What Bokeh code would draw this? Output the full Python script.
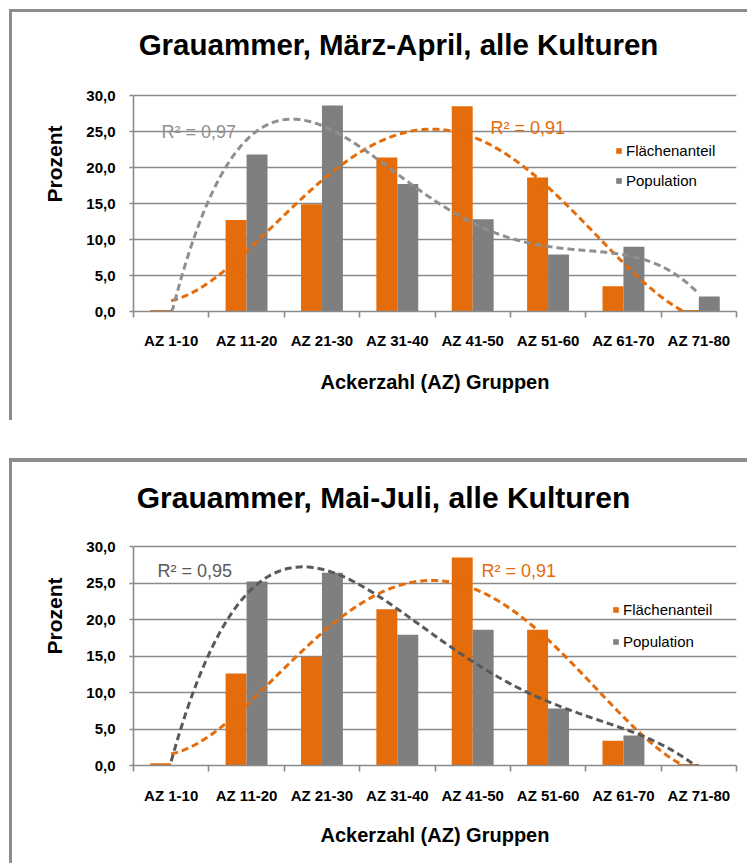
import numpy as np
from bokeh.plotting import figure
from bokeh.models import (ColumnDataSource, Range1d, FixedTicker, Legend, LegendItem, Label)
from bokeh.layouts import column
from bokeh.transform import dodge
from bokeh.embed import file_html
from bokeh.resources import INLINE

# ---------------- data ----------------
categories = ["AZ 1-10", "AZ 11-20", "AZ 21-30", "AZ 31-40",
              "AZ 41-50", "AZ 51-60", "AZ 61-70", "AZ 71-80"]
flaeche_maerz = [0.2, 12.7, 14.9, 21.4, 28.5, 18.6, 3.5, 0.2]
population_maerz = [0.0, 21.8, 28.6, 17.7, 12.8, 7.9, 9.0, 2.1]
flaeche_mai = [0.3, 12.6, 14.9, 21.4, 28.5, 18.6, 3.4, 0.2]
population_mai = [0.0, 25.2, 26.4, 17.9, 18.6, 7.8, 4.1, 0.0]
y_ticks = [0, 5, 10, 15, 20, 25, 30]
y_tick_labels = ["0,0", "5,0", "10,0", "15,0", "20,0", "25,0", "30,0"]
titles = ["Grauammer, März-April, alle Kulturen", "Grauammer, Mai-Juli, alle Kulturen"]
r2_maerz = {"flaeche": "R² = 0,91", "population": "R² = 0,97"}
r2_mai = {"flaeche": "R² = 0,91", "population": "R² = 0,95"}
r2_targets_maerz = {"flaeche": 0.91, "population": 0.97}
r2_targets_mai = {"flaeche": 0.91, "population": 0.95}

ORANGE = "#E46C0A"
GRAY = "#7F7F7F"
GRID = "#8A8A8A"
FRAME = "#8C8C8C"
FONT = "Liberation Sans"


def r2_of(x, y, deg):
    c = np.polyfit(x, y, deg)
    fit = np.polyval(c, x)
    ss_res = np.sum((np.array(y) - fit) ** 2)
    ss_tot = np.sum((np.array(y) - np.mean(y)) ** 2)
    return 1 - ss_res / ss_tot


def pick_degree(x, y, target):
    for d in range(2, 7):
        if round(r2_of(x, y, d), 2) == target:
            return d
    return 4


def make_chart(title, flaeche, population, r2_texts, r2_targets, geo, trend_gray):
    W, H = geo["W"], geo["H"]
    xi = list(range(1, len(categories) + 1))
    src = ColumnDataSource(dict(xi=xi, cat=categories, flaeche=flaeche, population=population))
    # frame reaches up into the title area; value axis itself is bounded to 0..30
    y_top = 30.0 * (geo["y0"] - geo["top"]) / (geo["y0"] - geo["y30"])
    p = figure(width=W, height=H, output_backend="svg", toolbar_location=None,
               x_range=Range1d(0.5, len(categories) + 0.5), y_range=Range1d(0, y_top),
               min_border_left=geo["left"], min_border_right=geo["right"],
               min_border_top=geo["top"], min_border_bottom=H - geo["y0"])
    p.outline_line_color = None
    p.background_fill_color = "white"
    p.border_fill_color = "white"
    p.styles = {"border-top": "%dpx solid %s" % (geo["border_top"], FRAME),
                "border-left": "3px solid %s" % FRAME}
    p.margin = (geo["margin_top"], 0, 0, 9)

    # grid
    p.xgrid.visible = False
    p.ygrid.ticker = FixedTicker(ticks=y_ticks)
    p.ygrid.grid_line_color = GRID
    p.ygrid.grid_line_width = 1.6

    # bars
    r1 = p.vbar(x=dodge("xi", -0.139), top="flaeche", width=0.278, source=src,
                fill_color=ORANGE, line_color=None)
    r2 = p.vbar(x=dodge("xi", 0.139), top="population", width=0.278, source=src,
                fill_color=GRAY, line_color=None)

    # polynomial trend lines (Excel-style, fitted on the bar values)
    xs = np.linspace(1, len(categories), 300)
    for key, vals, col in (("flaeche", flaeche, ORANGE), ("population", population, trend_gray)):
        d = pick_degree(xi, vals, r2_targets[key])
        c = np.polyfit(xi, vals, d)
        ys = np.clip(np.polyval(c, xs), 0, None)
        p.line(xs, ys, line_color=col, line_width=3, line_dash="7 4")

    # axes
    ya = p.yaxis[0]
    ya.bounds = (0, 30)
    ya.ticker = FixedTicker(ticks=y_ticks)
    ya.major_label_overrides = {t: l for t, l in zip(y_ticks, y_tick_labels)}
    ya.axis_label = "Prozent"
    ya.axis_label_text_font = FONT
    ya.axis_label_text_font_style = "bold"
    ya.axis_label_text_font_size = "21px"
    ya.axis_label_text_color = "black"
    ya.axis_label_standoff = 17
    ya.major_label_text_font = FONT
    ya.major_label_text_font_style = "bold"
    ya.major_label_text_font_size = "15px"
    ya.major_label_text_color = "black"
    ya.major_label_standoff = 14
    ya.major_tick_out = 4
    ya.major_tick_in = 0
    ya.minor_tick_line_color = None
    ya.axis_line_color = GRID
    ya.axis_line_width = 1.6
    ya.major_tick_line_color = GRID
    ya.major_tick_line_width = 1.6

    xa = p.xaxis[0]
    xa.ticker = FixedTicker(ticks=xi, minor_ticks=[i + 0.5 for i in range(0, len(categories) + 1)])
    xa.major_label_overrides = {i: c for i, c in zip(xi, categories)}
    xa.axis_label = "Ackerzahl (AZ) Gruppen"
    xa.axis_label_text_font = FONT
    xa.axis_label_text_font_style = "bold"
    xa.axis_label_text_font_size = "20px"
    xa.axis_label_text_color = "black"
    xa.axis_label_standoff = geo["xlab_standoff"]
    xa.major_label_text_font = FONT
    xa.major_label_text_font_style = "bold"
    xa.major_label_text_font_size = "15px"
    xa.major_label_text_color = "black"
    xa.major_label_standoff = geo["xtick_standoff"]
    xa.major_tick_out = 0
    xa.major_tick_in = 0
    xa.minor_tick_out = 6
    xa.minor_tick_in = 0
    xa.minor_tick_line_color = GRID
    xa.minor_tick_line_width = 1.6
    xa.axis_line_color = GRID
    xa.axis_line_width = 1.6

    # title
    p.add_layout(Label(x=geo["title_x"], y=geo["title_y"], x_units="screen", y_units="screen",
                       text=title, text_align="center", text_baseline="middle",
                       text_font=FONT, text_font_style="bold", text_font_size=geo["title_size"],
                       text_color="black"))
    # R² labels
    p.add_layout(Label(x=geo["r2g_x"], y=geo["r2g_y"], x_units="screen", y_units="screen",
                       text=r2_texts["population"], text_baseline="middle",
                       text_font=FONT, text_font_size="18px", text_color=trend_gray))
    p.add_layout(Label(x=geo["r2o_x"], y=geo["r2o_y"], x_units="screen", y_units="screen",
                       text=r2_texts["flaeche"], text_baseline="middle",
                       text_font=FONT, text_font_size="18px", text_color=ORANGE))

    # legend
    leg = Legend(items=[LegendItem(label="Flächenanteil", renderers=[r1]),
                        LegendItem(label="Population", renderers=[r2])],
                 location=geo["leg_loc"], orientation="vertical",
                 padding=0, margin=0, spacing=geo["leg_spacing"],
                 glyph_width=7, glyph_height=7, label_height=20, label_standoff=4,
                 label_text_font=FONT, label_text_font_size="15px", label_text_color="black",
                 border_line_color=None, background_fill_alpha=0)
    p.add_layout(leg)
    return p


geo1 = dict(W=738, H=411, left=114, right=14, top=4, y30=83, y0=299,
            border_top=3, margin_top=9, title_size="29.5px",
            title_x=265, title_y=267, r2g_x=28, r2g_y=180, r2o_x=357, r2o_y=184,
            leg_loc=(482, 121), leg_spacing=10, xtick_standoff=14, xlab_standoff=19)
geo2 = dict(W=738, H=405, left=121, right=13, top=4, y30=84, y0=303,
            border_top=4, margin_top=38, title_size="30px",
            title_x=250, title_y=268, r2g_x=24, r2g_y=195, r2o_x=348, r2o_y=195,
            leg_loc=(479, 114), leg_spacing=12, xtick_standoff=15, xlab_standoff=17)

p1 = make_chart(titles[0], flaeche_maerz, population_maerz, r2_maerz, r2_targets_maerz, geo1, "#8F8F8F")
p2 = make_chart(titles[1], flaeche_mai, population_mai, r2_mai, r2_targets_mai, geo2, "#595959")

layout = column(p1, p2, spacing=0)
open("out.html", "w").write(file_html(layout, INLINE))
